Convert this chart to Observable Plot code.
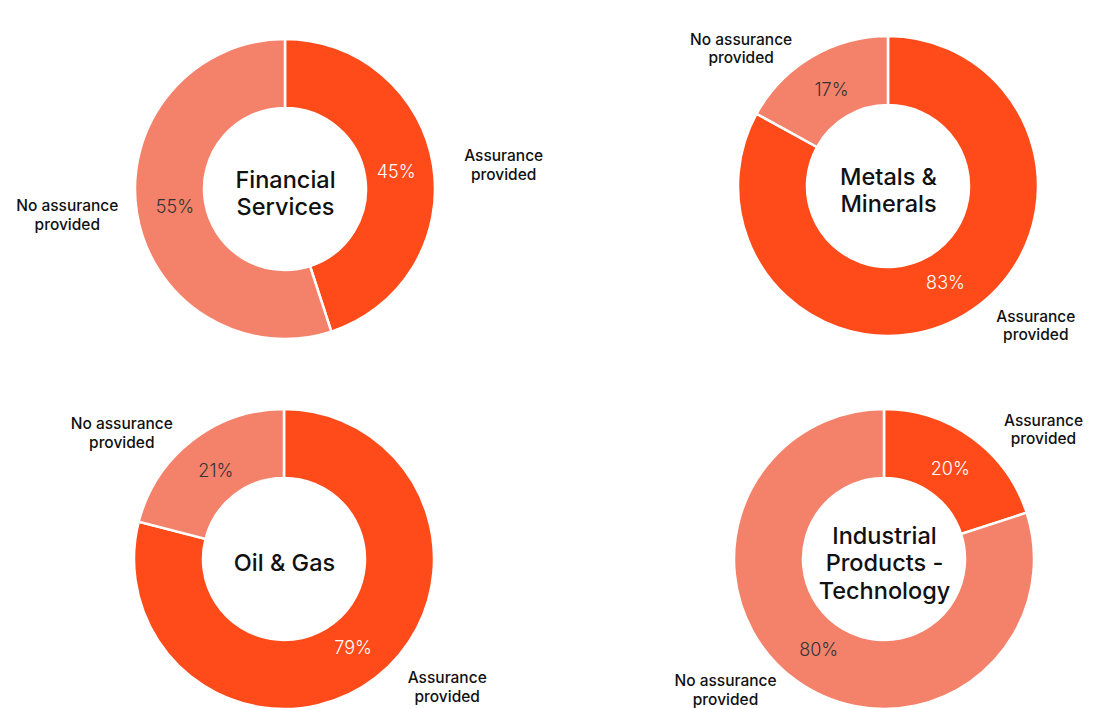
<!DOCTYPE html>
<html><head><meta charset="utf-8">
<script src="https://cdn.jsdelivr.net/npm/d3@7"></script>
<script src="https://cdn.jsdelivr.net/npm/@observablehq/plot@0.6"></script>
<style>body{margin:0;background:#fff;} #chart svg{display:block;}</style>
</head><body><div id="chart"></div>
<script>
// ---- data ----
const sectors = ["Financial Services", "Metals & Minerals", "Oil & Gas", "Industrial Products - Technology"];
const sectorTitles = ["Financial\nServices", "Metals &\nMinerals", "Oil & Gas", "Industrial\nProducts -\nTechnology"];
const assuranceProvided = [45, 83, 79, 20];
const noAssuranceProvided = [55, 17, 21, 80];
const categories = ["Assurance provided", "No assurance provided"];
const categoryLabels = ["Assurance\nprovided", "No assurance\nprovided"];

// ---- layout & style ----
const W = 1099, H = 708;
const centers = [[285, 189], [888, 186], [284, 559], [884, 559]];
const R_OUT = 150, R_IN = 81, R_PCT = 112;
const colors = {"Assurance provided": "#FF4A1A", "No assurance provided": "#F4826B"};
const FONT = "Inter, 'Open Sans', sans-serif";

const slices = [];
sectors.forEach((s, i) => {
  const vals = [assuranceProvided[i], noAssuranceProvided[i]];
  const total = d3.sum(vals);
  let a0 = 0;
  vals.forEach((v, j) => {
    const a1 = a0 + v / total * 2 * Math.PI;
    slices.push({sector: s, category: categories[j], label: categoryLabels[j], value: v,
      startAngle: a0, endAngle: a1, mid: (a0 + a1) / 2, cx: centers[i][0], cy: centers[i][1]});
    a0 = a1;
  });
});
const titles = sectors.map((s, i) => ({sector: s, title: sectorTitles[i], cx: centers[i][0], cy: centers[i][1]}));

function donuts(index, scales) {
  const g = d3.create("svg:g");
  const k = scales.x(1) - scales.x(0);
  const arc = d3.arc().innerRadius(R_IN * k).outerRadius(R_OUT * k);
  for (const d of slices) {
    g.append("path")
      .attr("transform", `translate(${scales.x(d.cx)},${scales.y(d.cy)})`)
      .attr("d", arc(d))
      .attr("fill", colors[d.category])
      .attr("stroke", "#fff")
      .attr("stroke-width", 2.5)
      .attr("stroke-linejoin", "miter");
  }
  return g.node();
}

const pctX = d => d.cx + R_PCT * Math.sin(d.mid);
const pctY = d => d.cy - R_PCT * Math.cos(d.mid);
const outX = d => d.cx + Math.sign(Math.sin(d.mid)) * (72 + 148 * Math.abs(Math.sin(d.mid)));
const outY = d => d.cy - 161 * Math.cos(d.mid);

const chart = Plot.plot({
  width: W, height: H, margin: 0,
  x: {domain: [0, W], range: [0, W], axis: null},
  y: {domain: [0, H], range: [0, H], axis: null},
  style: {fontFamily: FONT, background: "#fff"},
  marks: [
    donuts,
    Plot.text(slices.filter(d => d.category === categories[0]), {x: pctX, y: pctY, text: d => d.value + "%", fill: "#fff", fontSize: 18, fontWeight: 300}),
    Plot.text(slices.filter(d => d.category === categories[1]), {x: pctX, y: pctY, text: d => d.value + "%", fill: "#333", fontSize: 18, fontWeight: 300}),
    Plot.text(slices, {x: outX, y: outY, text: "label", fill: "#111", fontSize: 15.5, fontWeight: 500, lineHeight: 1.2}),
    Plot.text(titles, {x: "cx", y: "cy", dy: 3, text: "title", fill: "#111", fontSize: 23.5, fontWeight: 500, lineHeight: 1.18})
  ]
});
document.getElementById("chart").append(chart);
</script>
</body></html>
